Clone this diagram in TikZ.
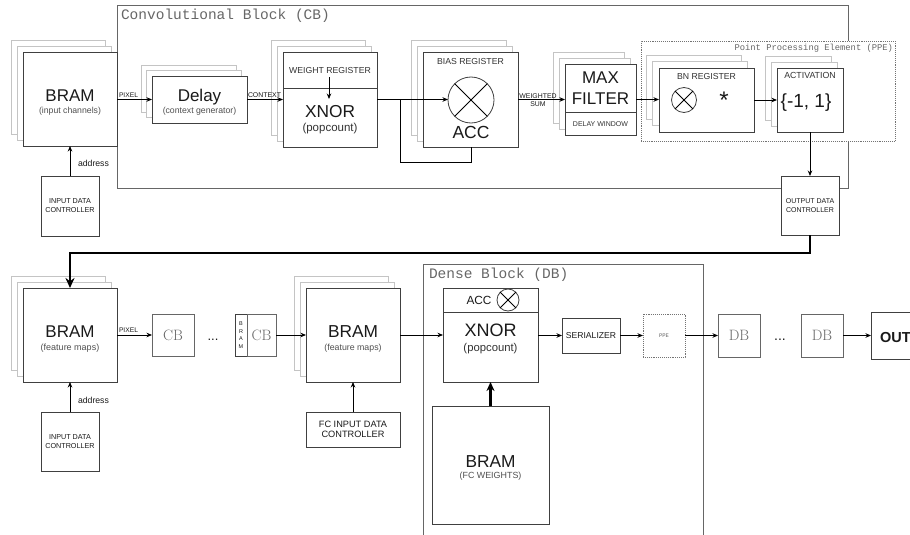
\documentclass[tikz,border=0pt]{standalone}
\usepackage{fontspec}
\usetikzlibrary{arrows.meta,shadows,calc}
\newfontfamily\arial{Liberation Sans}
\newfontfamily\cour{Liberation Mono}
\newcommand\fsz[1]{\fontsize{#1}{#1}\selectfont}
\definecolor{boxc}{HTML}{404040}
\definecolor{shc}{HTML}{C4C4C4}
\definecolor{blkc}{HTML}{666666}
\definecolor{txtc}{HTML}{1A1A1A}
\definecolor{subc}{HTML}{505050}
\begin{document}
\begin{tikzpicture}[x=1pt,y=-1pt,
  box/.style={draw=boxc, fill=white, line width=0.9pt, inner sep=0pt, outer sep=0pt, rectangle},
  stack/.style={box,
    general shadow={shadow xshift=-2*#1, shadow yshift=2*#1, draw=shc, fill=white, line width=0.9pt},
    general shadow={shadow xshift=-#1, shadow yshift=#1, draw=shc, fill=white, line width=0.9pt}},
  block/.style={draw=blkc, line width=0.9pt, inner sep=0pt, outer sep=0pt, rectangle},
  dotbox/.style={draw=black!55, densely dotted, fill=white, line width=0.9pt, inner sep=0pt, outer sep=0pt, rectangle},
  xcirc/.style={circle, draw=boxc, line width=0.8pt, inner sep=0pt, outer sep=0pt},
  t/.style={inner sep=0pt, outer sep=0pt, anchor=base, text=txtc, font=\arial},
  st/.style={t, text=subc},
  ctl/.style={box, align=center, text=txtc},
  cbx/.style={box, draw=black!60, text=black!60, font=\fsz{15}},
  arr/.style={draw=black, line width=0.8pt, -{Stealth[length=5.5pt,width=4.5pt]}},
  ln/.style={draw=black, line width=0.8pt},
  tarr/.style={draw=black, line width=2.6pt, -{Stealth[length=10pt,width=9pt]}},
  tarr2/.style={draw=black, line width=2.2pt, -{Stealth[length=9pt,width=8pt]}},
  divl/.style={draw=boxc, line width=0.8pt}
]
\useasboundingbox (0,0) rectangle (910,535);
\clip (0,0) rectangle (910,535);

% ---------- outer blocks ----------
\node[block, minimum width=731pt, minimum height=183pt] (cbblk) at (482.5,96.5) {};
\node[t, anchor=base west, text=blkc, font=\cour\fsz{14.5}] (cblab) at (121,20) {Convolutional Block (CB)};
\node[block, minimum width=280pt, minimum height=290pt, anchor=north west] (dbblk) at (423,264) {};
\node[t, anchor=base west, text=blkc, font=\cour\fsz{14.5}] (dblab) at (429,278) {Dense Block (DB)};

\node[dotbox, minimum width=254pt, minimum height=100pt] (ppe) at (768,91) {};
\node[t, anchor=base east, text=blkc, font=\cour\fsz{8.8}] (ppelab) at (893,51) {Point Processing Element (PPE)};

% ---------- top row ----------
\node[stack=6pt, minimum width=94pt, minimum height=94pt] (bram1) at (70,99) {};
\node[t, font=\arial\fsz{17}] (bram1a) at (70,101.5) {BRAM};
\node[st, font=\arial\fsz{8.7}] (bram1b) at (70,113) {(input channels)};

\node[ctl, minimum width=58pt, minimum height=60pt, font=\arial\fontsize{7.2}{9}\selectfont] (idc1) at (70,206) {INPUT DATA\\CONTROLLER};

\node[stack=5.5pt, minimum width=95pt, minimum height=47pt] (delay) at (199.5,99.5) {};
\node[t, font=\arial\fsz{17}] (delaya) at (199.5,101.5) {Delay};
\node[st, font=\arial\fsz{8.7}] (delayb) at (199.5,113) {(context generator)};

\node[stack=6pt, minimum width=94pt, minimum height=95pt] (wx) at (330,99.5) {};
\draw[divl] (wx.west |- 0,88) -- (wx.east |- 0,88);
\node[t, font=\arial\fsz{8.7}, text=black!80] (wxa) at (330,73.5) {WEIGHT REGISTER};
\node[t, font=\arial\fsz{17.3}] (wxb) at (330,117) {XNOR};
\node[t, font=\arial\fsz{11.5}, text=black!80] (wxc) at (330,131) {(popcount)};
\coordinate (wrs) at (329,77);
\coordinate (wre) at (329,99);
\draw[arr] (wrs) -- (wre);

\node[stack=6pt, minimum width=95pt, minimum height=95pt] (bias) at (470.5,99.5) {};
\node[t, font=\arial\fsz{8.7}, text=black!80] (biasa) at (470.5,64.5) {BIAS REGISTER};
\node[xcirc, minimum size=46pt] (acc1) at (471,100) {};
\draw[ln] (acc1.north east) -- (acc1.south west);
\draw[ln] (acc1.north west) -- (acc1.south east);
\node[t, font=\arial\fsz{17.5}] (biasb) at (471,138) {ACC};

\node[stack=6pt, minimum width=71pt, minimum height=71pt] (maxf) at (600.5,99.5) {};
\draw[divl] (maxf.west |- 0,112) -- (maxf.east |- 0,112);
\node[t, font=\arial\fsz{17}] (maxa) at (600.5,84) {MAX};
\node[t, font=\arial\fsz{17}] (maxb) at (600.5,104) {FILTER};
\node[t, font=\arial\fsz{7}, text=black!80] (maxc) at (600.5,126) {DELAY WINDOW};

\node[stack=6.5pt, minimum width=95pt, minimum height=64pt] (bn) at (706.5,100) {};
\node[t, font=\arial\fsz{8.7}, text=black!80] (bna) at (706.5,79) {BN REGISTER};
\node[xcirc, minimum size=25pt] (bnc) at (684,100) {};
\draw[ln] (bnc.north east) -- (bnc.south west);
\draw[ln] (bnc.north west) -- (bnc.south east);
\node[t, font=\arial\fsz{24}] (bnstar) at (724,108.5) {*};

\node[stack=6pt, minimum width=66pt, minimum height=64pt] (act) at (810,100) {};
\node[t, font=\arial\fsz{8.8}, text=black!80] (acta) at (810,78) {ACTIVATION};
\node[t, font=\arial\fsz{19}] (actb) at (806,107) {\{-1, 1\}};

\node[ctl, minimum width=58pt, minimum height=59pt, font=\arial\fontsize{7}{9}\selectfont] (odc) at (810,205.5) {OUTPUT DATA\\CONTROLLER};

% top row connectors
\draw[arr] (bram1.east |- delay.west) -- (delay.west);
\node[t, anchor=base west, font=\arial\fsz{6.7}] (pix1) at (119,97) {PIXEL};
\draw[arr] (delay.east) -- (delay.east -| wx.west);
\node[t, anchor=base west, font=\arial\fsz{6.9}] (ctx) at (248,97) {CONTEXT};
\coordinate (j1) at (400,99.5);
\coordinate (fb1) at (400,162);
\draw[arr] (wx.east) -- (wx.east -| acc1.west);
\draw[ln] (bias.south -| acc1) |- (fb1) -- (j1);
\draw[arr] (bias.east) -- (bias.east -| maxf.west);
\node[t, font=\arial\fsz{6.9}] (ws1) at (538,98) {WEIGHTED};
\node[t, font=\arial\fsz{6.9}] (ws2) at (538,106.5) {SUM};
\draw[arr] (maxf.east) -- (maxf.east -| bn.west);
\draw[arr] (bn.east) -- (bn.east -| act.west);
\draw[arr] (act.south) -- (odc.north);
\draw[arr] (idc1.north) -- (bram1.south);
\node[t, anchor=base west, font=\arial\fsz{8.7}] (addr1) at (78,166) {address};

% ---------- bottom row ----------
\node[stack=6pt, minimum width=94pt, minimum height=94pt] (bram2) at (70,335) {};
\node[t, font=\arial\fsz{17}] (bram2a) at (70,337) {BRAM};
\node[st, font=\arial\fsz{9}] (bram2b) at (70,350) {(feature maps)};

\coordinate (tk1) at (810,253);
\draw[tarr] (odc.south) -- (tk1) -| (bram2.north);

\node[ctl, minimum width=58pt, minimum height=59pt, font=\arial\fontsize{7.2}{8.5}\selectfont] (idc2) at (70,441.5) {INPUT DATA\\CONTROLLER};
\draw[arr] (idc2.north) -- (bram2.south);
\node[t, anchor=base west, font=\arial\fsz{8.7}] (addr2) at (78,403) {address};

\node[cbx, minimum width=42pt, minimum height=42pt] (cb1) at (173,335) {CB};
\draw[arr] (bram2.east |- cb1.west) -- (cb1.west);
\node[t, anchor=base west, font=\arial\fsz{6.7}] (pix2) at (119,332) {PIXEL};
\node[t, font=\arial\fsz{13}] (dots1) at (213,340) {...};
\node[box, minimum width=12pt, minimum height=42pt, align=center, text=txtc, font=\arial\fontsize{5.5}{7.5}\selectfont] (bsm) at (241,335) {B\\R\\A\\M};
\node[cbx, minimum width=29pt, minimum height=42pt] (cb2) at (261.5,335) {CB};

\node[stack=6pt, minimum width=94pt, minimum height=94pt] (bram3) at (353,335) {};
\node[t, font=\arial\fsz{17.3}] (bram3a) at (353,337) {BRAM};
\node[st, font=\arial\fsz{8.8}] (bram3b) at (353,350) {(feature maps)};
\draw[arr] (cb2.east) -- (cb2.east -| bram3.west);

\node[ctl, minimum width=94pt, minimum height=35pt, font=\arial\fontsize{9.2}{10}\selectfont] (fcidc) at (353,429.5) {FC INPUT DATA\\CONTROLLER};
\draw[arr] (fcidc.north) -- (bram3.south);

\node[box, minimum width=95pt, minimum height=94pt] (dx) at (490.5,335) {};
\draw[divl] (dx.west |- 0,312) -- (dx.east |- 0,312);
\node[t, font=\arial\fsz{11.8}] (dxa) at (479,304.5) {ACC};
\node[xcirc, minimum size=22pt] (dxc) at (508,300) {};
\draw[ln] (dxc.north east) -- (dxc.south west);
\draw[ln] (dxc.north west) -- (dxc.south east);
\node[t, font=\arial\fsz{18}] (dxb) at (490.5,336) {XNOR};
\node[t, font=\arial\fsz{11.3}, text=black!80] (dxd) at (490.5,351) {(popcount)};
\draw[arr] (bram3.east) -- (bram3.east -| dx.west);

\node[box, minimum width=117pt, minimum height=118pt] (bram4) at (490.5,465) {};
\node[t, font=\arial\fsz{17.3}] (bram4a) at (490.5,467) {BRAM};
\node[st, font=\arial\fsz{8.9}] (bram4b) at (490.5,478) {(FC WEIGHTS)};
\draw[tarr2] (bram4.north) -- (dx.south);

\node[box, minimum width=58pt, minimum height=35pt, text=txtc, font=\arial\fsz{8.6}] (ser) at (591,335.5) {SERIALIZER};
\node[dotbox, minimum width=42pt, minimum height=43pt, text=black!60, font=\cour\fsz{5.5}] (ppe2) at (664,335.5) {PPE};
\node[cbx, minimum width=42pt, minimum height=43pt] (db1) at (739,335.5) {DB};
\node[t, font=\arial\fsz{14}] (dots2) at (780,340) {...};
\node[cbx, minimum width=42pt, minimum height=43pt] (db2) at (822,335.5) {DB};
\node[box, minimum width=64pt, minimum height=47pt] (outb) at (903,335.5) {};
\node[t, anchor=base west, font=\arial\bfseries\fsz{14.5}] (outt) at (880,342) {OUT};

\draw[arr] (dx.east |- ser.west) -- (ser.west);
\draw[arr] (ser.east) -- (ser.east -| ppe2.west);
\draw[arr] (ppe2.east) -- (ppe2.east -| db1.west);
\draw[arr] (db2.east) -- (db2.east -| outb.west);
\end{tikzpicture}
\end{document}
